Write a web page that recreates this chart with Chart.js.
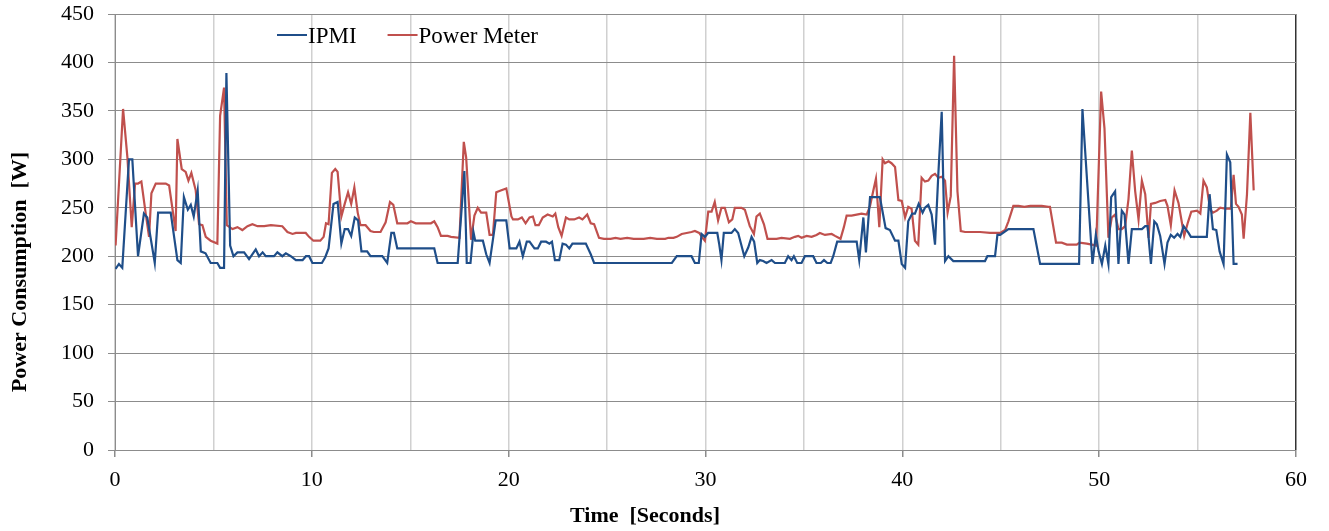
<!DOCTYPE html>
<html>
<head>
<meta charset="utf-8">
<title>Power Consumption</title>
<script src="https://cdn.jsdelivr.net/npm/chart.js@4.4.1/dist/chart.umd.min.js"></script>
<style>
  html, body { margin: 0; padding: 0; background: #fff; }
  #wrap { position: relative; width: 1329px; height: 531px; }
</style>
</head>
<body>
<div id="wrap"><canvas id="powerChart" width="1329" height="531"></canvas></div>
<script>
// ---- data (seconds / watts) ----
const ipmiTime = [
  0.03, 0.2, 0.37, 0.71, 0.88, 1.17, 1.47, 1.64, 2.02, 2.19, 2.83, 3.17, 3.34, 3.5, 3.7, 3.85, 4.0, 4.2, 4.36, 4.6,
  4.86, 5.2, 5.34, 5.54, 5.66, 5.85, 6.02, 6.22, 6.56, 6.81, 7.15, 7.32, 7.5, 7.66, 8.08, 8.25, 8.5, 8.68, 8.93, 9.19,
  9.53, 9.7, 9.86, 10.03, 10.51, 10.68, 10.85, 11.1, 11.31, 11.5, 11.67, 11.84, 12.0, 12.18, 12.35, 12.52, 12.81, 12.98, 13.58, 13.83,
  14.04, 14.17, 14.34, 16.22, 16.39, 17.41, 17.75, 17.87, 18.06, 18.21, 18.3, 18.69, 18.86, 19.03, 19.34, 19.88, 20.05, 20.39, 20.55, 20.72,
  20.92, 21.06, 21.31, 21.48, 21.65, 21.9, 22.07, 22.2, 22.35, 22.57, 22.74, 22.91, 23.08, 23.24, 23.92, 24.17, 24.34, 28.29, 28.54, 29.29,
  29.46, 29.66, 29.8, 29.97, 30.13, 30.47, 30.6, 30.7, 30.81, 30.93, 31.32, 31.49, 31.66, 31.97, 32.17, 32.34, 32.47, 32.63, 32.76, 32.93,
  33.1, 33.36, 33.53, 34.03, 34.2, 34.37, 34.49, 34.66, 34.88, 35.05, 35.47, 35.64, 35.86, 36.02, 36.19, 36.36, 36.49, 36.69, 37.68, 37.81,
  38.02, 38.15, 38.36, 38.86, 39.15, 39.37, 39.63, 39.8, 39.97, 40.14, 40.3, 40.5, 40.64, 40.83, 41.03, 41.15, 41.32, 41.49, 41.66, 41.83,
  42.0, 42.17, 42.34, 42.59, 44.2, 44.32, 44.71, 44.83, 44.97, 45.39, 46.66, 47.0, 48.98, 49.15, 49.66, 49.83, 49.97, 50.14, 50.31, 50.47,
  50.61, 50.81, 50.98, 51.15, 51.29, 51.49, 51.66, 52.17, 52.34, 52.46, 52.63, 52.8, 52.93, 53.1, 53.32, 53.47, 53.64, 53.81, 53.98, 54.12,
  54.29, 54.54, 54.66, 55.47, 55.61, 55.78, 55.95, 56.12, 56.32, 56.49, 56.66, 56.83, 57.03
];
const ipmiWatts = [
  187, 192, 188, 300, 300, 200, 244, 240, 193, 245, 245, 196, 193, 261, 248, 253, 241, 268, 205, 203,
  193, 193, 188, 188, 389, 211, 200, 204, 204, 197, 207, 200, 204, 200, 200, 204, 200, 203, 200, 196,
  196, 200, 200, 193, 193, 199, 208, 254, 256, 213, 228, 228, 221, 240, 237, 205, 205, 200, 200, 193,
  224, 224, 208, 208, 193, 193, 288, 193, 193, 225, 216, 216, 202, 193, 237, 237, 208, 208, 215, 200,
  215, 215, 208, 208, 215, 215, 213, 215, 196, 196, 213, 212, 208, 213, 213, 202, 193, 193, 200, 200,
  193, 193, 223, 220, 224, 224, 224, 212, 196, 224, 224, 228, 224, 200, 209, 220, 215, 193, 196, 195,
  193, 196, 193, 193, 200, 196, 200, 193, 193, 200, 200, 193, 193, 196, 193, 193, 200, 215, 215, 196,
  240, 204, 261, 261, 229, 227, 216, 216, 192, 188, 236, 244, 244, 254, 245, 250, 253, 243, 212, 285,
  349, 195, 200, 195, 195, 200, 200, 222, 222, 228, 228, 192, 192, 352, 192, 222, 205, 192, 211, 192,
  261, 267, 192, 247, 243, 192, 228, 228, 231, 231, 192, 236, 233, 221, 192, 214, 222, 219, 223, 220,
  231, 224, 220, 220, 264, 228, 227, 205, 192, 305, 297, 192, 192
];
const meterTime = [
  0.03, 0.41, 0.63, 0.85, 1.02, 1.17, 1.34, 1.56, 1.73, 1.85, 2.07, 2.58, 2.75, 3.08, 3.17, 3.39, 3.59, 3.73, 3.88, 4.1,
  4.27, 4.44, 4.61, 4.86, 5.2, 5.34, 5.54, 5.68, 5.97, 6.22, 6.47, 6.73, 6.98, 7.24, 7.58, 7.92, 8.5, 8.76, 9.02, 9.19,
  9.44, 9.69, 9.86, 10.08, 10.43, 10.6, 10.72, 10.85, 11.02, 11.19, 11.31, 11.5, 11.67, 11.84, 12.0, 12.16, 12.33, 12.47, 12.73, 12.98,
  13.15, 13.49, 13.75, 13.97, 14.14, 14.34, 14.86, 15.03, 15.28, 16.05, 16.22, 16.39, 16.56, 16.9, 17.07, 17.5, 17.72, 17.84, 18.09, 18.26,
  18.43, 18.6, 18.86, 19.03, 19.2, 19.37, 19.63, 19.88, 20.14, 20.22, 20.47, 20.67, 20.86, 21.06, 21.23, 21.36, 21.53, 21.73, 21.98, 22.24,
  22.37, 22.52, 22.69, 22.91, 23.08, 23.33, 23.58, 23.75, 23.99, 24.17, 24.34, 24.59, 24.84, 25.18, 25.43, 25.68, 26.02, 26.35, 26.86, 27.19,
  27.53, 27.95, 28.12, 28.37, 28.54, 28.79, 29.04, 29.29, 29.46, 29.68, 29.85, 29.97, 30.14, 30.31, 30.47, 30.64, 30.81, 30.98, 31.19, 31.36,
  31.49, 31.66, 31.83, 32.0, 32.25, 32.46, 32.59, 32.76, 32.97, 33.15, 33.61, 33.86, 34.29, 34.54, 34.71, 34.88, 35.14, 35.39, 35.64, 35.81,
  36.07, 36.41, 36.58, 36.86, 37.03, 37.17, 37.42, 37.68, 37.93, 38.19, 38.36, 38.53, 38.66, 38.83, 39.0, 39.12, 39.3, 39.45, 39.63, 39.8,
  39.97, 40.14, 40.3, 40.47, 40.64, 40.81, 40.98, 41.15, 41.32, 41.49, 41.66, 41.83, 42.0, 42.17, 42.3, 42.46, 42.63, 42.8, 42.97, 43.19,
  43.95, 44.46, 44.97, 45.22, 45.39, 45.64, 45.9, 46.2, 46.5, 46.8, 47.08, 47.42, 47.5, 47.81, 48.1, 48.36, 48.86, 49.0, 49.37, 49.63,
  49.85, 50.1, 50.27, 50.47, 50.64, 50.81, 50.98, 51.15, 51.32, 51.49, 51.66, 51.83, 52.0, 52.17, 52.34, 52.51, 52.63, 52.85, 53.1, 53.36,
  53.47, 53.64, 53.83, 54.03, 54.2, 54.32, 54.51, 54.68, 54.97, 55.14, 55.3, 55.47, 55.64, 55.78, 55.98, 56.15, 56.41, 56.69, 56.83, 56.95,
  57.08, 57.25, 57.34, 57.51, 57.68, 57.85
];
const meterWatts = [
  211, 352, 302, 230, 275, 275, 277, 244, 220, 265, 275, 275, 273, 226, 321, 290, 287, 278, 286, 268,
  233, 232, 220, 216, 213, 345, 374, 232, 228, 230, 227, 231, 233, 231, 231, 232, 231, 225, 223, 224,
  224, 224, 220, 216, 216, 220, 234, 233, 286, 290, 287, 241, 254, 266, 254, 271, 245, 232, 232, 226,
  225, 225, 235, 256, 253, 234, 234, 236, 234, 234, 236, 230, 221, 221, 220, 219, 318, 302, 217, 242,
  250, 245, 245, 222, 222, 266, 268, 270, 241, 238, 238, 240, 234, 240, 241, 232, 232, 240, 243, 241,
  244, 230, 221, 240, 238, 238, 240, 238, 243, 234, 233, 219, 218, 218, 219, 218, 219, 218, 218, 219,
  218, 218, 219, 219, 220, 223, 224, 225, 226, 224, 219, 216, 246, 246, 256, 237, 250, 250, 235, 238,
  250, 250, 250, 248, 231, 223, 241, 244, 233, 218, 218, 219, 218, 220, 221, 219, 221, 220, 222, 224,
  222, 223, 221, 218, 230, 242, 242, 243, 244, 243, 252, 268, 280, 230, 300, 296, 298, 296, 292, 258,
  257, 240, 251, 249, 216, 212, 281, 277, 278, 283, 285, 281, 282, 278, 245, 262, 407, 267, 226, 225,
  225, 224, 224, 227, 236, 252, 252, 251, 252, 252, 252, 251, 251, 214, 214, 212, 212, 214, 213, 212,
  211, 370, 332, 219, 240, 243, 228, 228, 231, 259, 309, 267, 238, 278, 264, 219, 254, 255, 257, 258,
  252, 232, 268, 255, 235, 221, 235, 246, 247, 244, 278, 271, 248, 245, 247, 250, 249, 249, 284, 254,
  251, 243, 218, 264, 348, 268
];
const xTicks = [0, 10, 20, 30, 40, 50, 60];
const yTicks = [0, 50, 100, 150, 200, 250, 300, 350, 400, 450];

function toPoints(times, watts) {
  return times.map((t, i) => ({ x: t, y: watts[i] }));
}

// legend drawn inside the plot, like the original
const inlineLegend = {
  id: "inlineLegend",
  afterDraw(chart) {
    const ctx = chart.ctx;
    let x = chart.chartArea.left + 162;
    const y = chart.chartArea.top + 21;
    ctx.save();
    ctx.font = '23px "Liberation Serif"';
    ctx.textBaseline = "middle";
    chart.data.datasets.forEach((ds) => {
      ctx.strokeStyle = ds.borderColor;
      ctx.lineWidth = 2;
      ctx.beginPath();
      ctx.moveTo(x, y);
      ctx.lineTo(x + 30, y);
      ctx.stroke();
      ctx.fillStyle = "#000";
      ctx.fillText(ds.label, x + 31, y + 2);
      x += 31 + ctx.measureText(ds.label).width + 31;
    });
    ctx.restore();
  },
};

// axis titles (Excel puts them off-centre)
const axisTitles = {
  id: "axisTitles",
  afterDraw(chart) {
    const ctx = chart.ctx;
    const area = chart.chartArea;
    ctx.save();
    ctx.font = 'bold 22px "Liberation Serif"';
    ctx.fillStyle = "#000";
    ctx.textAlign = "center";
    ctx.textBaseline = "middle";
    ctx.fillText("Time  [Seconds]", area.left + 530, area.bottom + 66);
    ctx.translate(20, area.top + 258);
    ctx.rotate(-Math.PI / 2);
    ctx.fillText("Power Consumption  [W]", 0, 0);
    ctx.restore();
  },
};

const ctx = document.getElementById("powerChart").getContext("2d");
new Chart(ctx, {
  type: "line",
  data: {
    datasets: [
      {
        label: "IPMI",
        data: toPoints(ipmiTime, ipmiWatts),
        borderColor: "#1F4E89",
        borderWidth: 2.2,
        pointRadius: 0,
        tension: 0,
      },
      {
        label: "Power Meter",
        data: toPoints(meterTime, meterWatts),
        borderColor: "#C0504D",
        borderWidth: 2.2,
        pointRadius: 0,
        tension: 0,
      },
    ],
  },
  options: {
    responsive: false,
    animation: false,
    layout: { padding: { top: 14, right: 33, left: 0, bottom: 0 } },
    plugins: {
      legend: { display: false },
      tooltip: { enabled: false },
    },
    scales: {
      x: {
        type: "linear",
        min: 0,
        max: 60,
        ticks: {
          stepSize: 5,
          padding: 10,
          color: "#000",
          font: { family: "Liberation Serif", size: 22 },
          callback: (v) => (xTicks.includes(v) ? v : ""),
        },
        grid: {
          color: (c) => (c.tick && c.tick.value === 60 ? "#333" : "#d0d0d0"),
          lineWidth: 1.5,
          tickLength: 7,
          tickColor: (c) => (c.tick && xTicks.includes(c.tick.value) ? "#8c8c8c" : "rgba(0,0,0,0)"),
        },
        border: { color: "#8c8c8c", width: 1 },
        afterFit: (scale) => {
          scale.height = 81;
          scale.paddingLeft = 0;
          scale.paddingRight = 0;
        },
      },
      y: {
        min: 0,
        max: 450,
        ticks: {
          stepSize: 50,
          padding: 14,
          color: "#000",
          font: { family: "Liberation Serif", size: 22 },
          callback: (v) => (yTicks.includes(v) ? v : ""),
        },
        grid: { color: "#8c8c8c", lineWidth: 1, tickLength: 7 },
        border: { color: "#8c8c8c", width: 1 },
        afterFit: (scale) => {
          scale.width = 115;
          scale.paddingTop = 0;
          scale.paddingBottom = 0;
        },
      },
    },
  },
  plugins: [inlineLegend, axisTitles],
});
</script>
</body>
</html>
